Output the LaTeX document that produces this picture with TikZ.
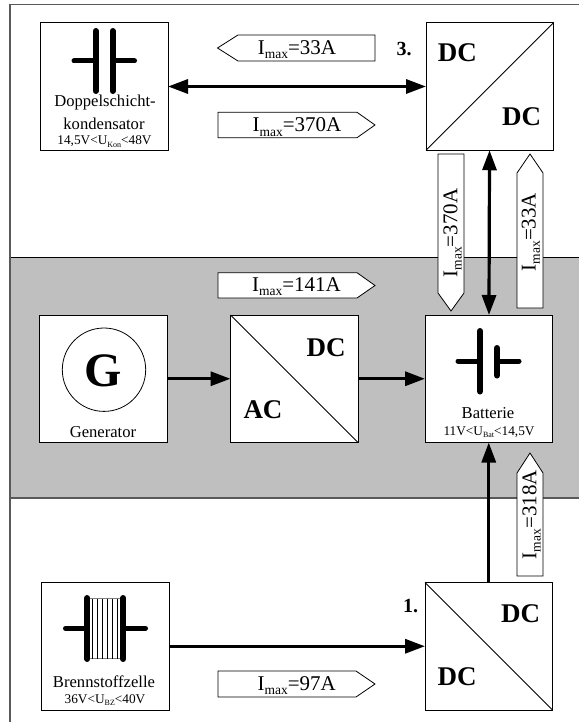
\documentclass[tikz,border=0pt]{standalone}
\usepackage{fontspec}
\setmainfont{Liberation Serif}
\usetikzlibrary{arrows.meta}
\newcommand{\fs}[1]{\fontsize{#1}{#1}\selectfont}
\newcommand{\subtxt}[2]{\raisebox{-0.2em}{\fs{#1}#2}}
\newcommand{\imaxval}[1]{\fs{21}I\subtxt{13.5}{max}=#1}
\definecolor{bandgray}{gray}{0.75}
\definecolor{framegray}{gray}{0.35}
\tikzset{
  unitbox/.style={draw=black,fill=white,line width=1pt,minimum width=127.5pt,minimum height=127.5pt,inner sep=0pt,outer sep=0pt},
  flow/.style={line width=3.2pt,-{Triangle[length=20pt,width=14pt]}},
  flowboth/.style={line width=3.2pt,{Triangle[length=20pt,width=14pt]}-{Triangle[length=20pt,width=14pt]}},
  tag/.style={draw=black,fill=white,line width=0.8pt,line join=miter},
  tagtext/.style={inner sep=0pt},
  plate/.style={line width=6pt,line cap=round},
  lead/.style={line width=5pt,line cap=round},
  convtext/.style={font=\fs{27}\bfseries,inner sep=0pt},
  numtext/.style={font=\fs{20}\bfseries,inner sep=0pt},
  lbl/.style={font=\fs{16.6},inner sep=0pt},
  sublbl/.style={font=\fs{13.3},inner sep=0pt},
}
\begin{document}
\begin{tikzpicture}[x=1pt,y=-1pt]
\useasboundingbox (0,0) rectangle (579,722);
\fill[white] (0,0) rectangle (579,722);
% band and frame
\fill[bandgray] (10,257) rectangle (579,498);
\draw[line width=0.8pt] (10,257) -- (579,257);
\draw[framegray,line width=1.3pt] (10,498) -- (579,498);
\draw[framegray,line width=1.4pt] (579,4.5) -- (10,4.5) -- (10,722);
% boxes
\node[unitbox] (kon) at (104.25,86.5) {};
\node[unitbox] (dc3) at (489.75,86.5) {};
\node[unitbox] (gen) at (103.25,378.75) {};
\node[unitbox] (ac) at (294.25,378.75) {};
\node[unitbox] (bat) at (488.75,378.75) {};
\node[unitbox] (bz) at (105.25,646.25) {};
\node[unitbox] (dc1) at (488.75,646.25) {};
% diagonals
\draw[line width=0.8pt] (dc3.south west) -- (dc3.north east);
\draw[line width=0.8pt] (ac.north west) -- (ac.south east);
\draw[line width=0.8pt] (dc1.north west) -- (dc1.south east);
% connectors
\draw[flowboth] (kon) -- (dc3);
\draw[flowboth] (dc3) -- (bat);
\draw[flow] (gen) -- (ac);
\draw[flow] (ac) -- (bat);
\draw[flow] (bz) -- (dc1);
\draw[flow] (dc1) -- (bat);
% converter texts
\node[convtext] (t3a) at (457.3,52.7) {DC};
\node[convtext] (t3b) at (521.7,116.7) {DC};
\node[numtext] (n3) at (404,49) {3.};
\node[convtext] (tab) at (326,347.3) {DC};
\node[convtext] (taa) at (263,410) {AC};
\node[convtext] (t1a) at (520.7,614) {DC};
\node[convtext] (t1b) at (457,676.7) {DC};
\node[numtext] (n1) at (410.7,606) {1.};
% capacitor
\draw[plate] (95.7,31) -- (95.7,91);
\draw[plate] (112.7,31) -- (112.7,91);
\draw[lead] (74,61) -- (95.7,61);
\draw[lead] (112.7,61) -- (134.5,61);
\node[lbl] (k1) at (105,102.3) {Doppelschicht-};
\node[lbl] (k2) at (104,124.3) {kondensator};
\node[sublbl] (k3) at (104.5,141.7) {14,5V<U\subtxt{8}{Kon}<48V};
% generator
\draw[line width=0.8pt] (104,369.7) circle (41.7);
\node[font=\fs{48}\bfseries,inner sep=0pt] (g) at (103,371) {G};
\node[lbl] (gl) at (103,431.7) {Generator};
% battery
\draw[plate] (480,331) -- (480,391.5);
\draw[plate] (497,348) -- (497,375.5);
\draw[lead] (458,361) -- (480,361);
\draw[lead] (497,361) -- (519,361);
\node[lbl] (b1) at (488,413.3) {Batterie};
\node[sublbl] (b2) at (489,432.3) {11V<U\subtxt{8}{Bat}<14,5V};
% fuel cell
\draw[gray,line width=0.8pt] (90,598.7) -- (121,598.7) (90,658.5) -- (121,658.5);
\foreach \x in {92.7,97.3,102.7,107.3,112.7,117.3} \draw[line width=0.7pt] (\x,598.7) -- (\x,658.5);
\draw[plate] (87.3,598) -- (87.3,659);
\draw[plate] (123.3,598) -- (123.3,659);
\draw[lead] (65.5,628.3) -- (87.3,628.3);
\draw[lead] (123.3,628.3) -- (145.5,628.3);
\node[lbl] (f1) at (104,681.7) {Brennstoffzelle};
\node[sublbl] (f2) at (105,700) {36V<U\subtxt{8}{BZ}<40V};
% current tags
\draw[tag] (217.5,48) -- (238,35) -- (375,35) -- (375,61) -- (238,61) -- cycle;
\node[tagtext] (i1) at (297,50) {\imaxval{33A}};
\draw[tag] (218,112.3) -- (357,112.3) -- (375,125) -- (357,137.7) -- (218,137.7) -- cycle;
\node[tagtext] (i2) at (297,127) {\imaxval{370A}};
\draw[tag] (218,272.7) -- (357,272.7) -- (375,285.5) -- (357,298) -- (218,298) -- cycle;
\node[tagtext] (i3) at (296.5,286.7) {\imaxval{141A}};
\draw[tag] (218,671) -- (356,671) -- (375,684) -- (356,697) -- (218,697) -- cycle;
\node[tagtext] (i4) at (296.7,686) {\imaxval{97A}};
\draw[tag] (438,154) -- (464,154) -- (464,293) -- (451,311) -- (438,293) -- cycle;
\node[tagtext,rotate=90] (i5) at (452.5,233) {\imaxval{370A}};
\draw[tag] (517,173) -- (530,154) -- (543,173) -- (543,308) -- (517,308) -- cycle;
\node[tagtext,rotate=90] (i6) at (530.8,232) {\imaxval{33A}};
\draw[tag] (517,473) -- (530,453) -- (543,473) -- (543,576) -- (517,576) -- cycle;
\node[tagtext,rotate=90] (i7) at (531.5,514.7) {\imaxval{318A}};
\end{tikzpicture}
\end{document}
